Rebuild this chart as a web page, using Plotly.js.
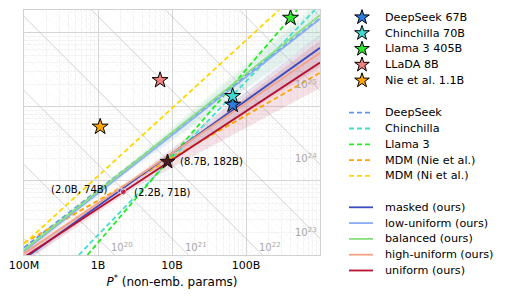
<!DOCTYPE html>
<html><head><meta charset="utf-8">
<script src="https://cdn.plot.ly/plotly-3.0.1.min.js"></script>
<style>html,body{margin:0;padding:0;background:#fff;}#chart{width:508px;height:299px;}</style>
</head><body><div id="chart"></div>
<script>
// ---- reference models (stars) ----
const starNames = ['DeepSeek 67B', 'Chinchilla 70B', 'Llama 3 405B', 'LLaDA 8B', 'Nie et al. 1.1B'];
const starP = [6.6e10, 6.6e10, 4.0e11, 6.9e9, 1.07e9];
const starD = [1.07e12, 1.4e12, 1.6e13, 2.3e12, 5.4e11];
const starColors = ['#2b7de0', '#40d8d0', '#2ee62e', '#f08080', '#ffa500'];

// ---- reference scaling laws (dashed) ----
const refNames = ['DeepSeek', 'Chinchilla', 'Llama 3', 'MDM (Nie et al.)', 'MDM (Ni et al.)'];
const refP_DeepSeek = [1e8, 1e12];      const refD_DeepSeek = [1.26e10, 1.58e13];
const refP_Chinchilla = [5.5e8, 8.5e11]; const refD_Chinchilla = [1e10, 2.04e13];
const refP_Llama = [7.2e8, 4.9e11];     const refD_Llama = [1e10, 2.04e13];
const refP_Nie = [1e8, 1e12];           const refD_Nie = [1.45e10, 2.9e12];
const refP_Ni = [1e8, 2.8e11];          const refD_Ni = [1.41e10, 2.04e13];
const refColors = ['#6495ed', '#40e0d0', '#22ee22', '#ffa500', '#ffd700'];

// ---- our fits (solid) with uncertainty bands ----
const oursNames = ['masked (ours)', 'low-uniform (ours)', 'balanced (ours)', 'high-uniform (ours)', 'uniform (ours)'];
const oursP = [1e8, 3e9, 1e12];
const maskedD = [8.9e9, 1.0e11, 6.3e12];
const maskedLo = [7.9e9, 9.3e10, 3.5e12];
const maskedHi = [1.05e10, 1.07e11, 9.5e12];
const lowUniD = [1.12e10, 1.62e11, 1.55e13];
const lowUniLo = [1.0e10, 1.48e11, 8.9e12];
const lowUniHi = [1.26e10, 1.78e11, 2.5e13];
const balancedD = [1.17e10, 1.74e11, 1.74e13];
const balancedLo = [1.05e10, 1.58e11, 8.9e12];
const balancedHi = [1.32e10, 1.9e11, 2.8e13];
const highUniD = [1.05e10, 1.05e11, 5.37e12];
const highUniLo = [9.3e9, 9.8e10, 3.2e12];
const highUniHi = [1.2e10, 1.12e11, 8.9e12];
const uniformD = [9.33e9, 8.7e10, 3.98e12];
const uniformLo = [7.9e9, 7.9e10, 1.8e12];
const uniformHi = [1.12e10, 9.5e10, 7.9e12];
const oursColors = ['#3b4cc0', '#8cadf5', '#86e07c', '#f5a386', '#b8102f'];

// ---- highlighted optima ----
const optP = [2.0e9, 2.2e9];
const optD = [7.4e10, 7.1e10];
const optLabels = ['(2.0B, 74B)', '(2.2B, 71B)'];
const starOptP = [8.7e9];
const starOptD = [1.82e11];
const starOptLabel = ['(8.7B, 182B)'];

// ---- iso-FLOP contours (C = 6 P D) ----
const isoExp = [19, 20, 21, 22, 23, 24, 25, 26];
const isoBottomLabels = [20, 21, 22];
const isoRightLabels = [23, 24, 25];

// ---- ticks ----
const xTickVals = [1e8, 1e9, 1e10, 1e11];
const xTickText = ['100M', '1B', '10B', '100B'];
const yTickVals = [1e10, 1e11, 1e12, 1e13];

const FONT = 'DejaVu Sans, sans-serif';
const traces = [];

// minor iso lines
const mx = [], my = [];
isoExp.forEach(k => {
  for (let m = 2; m <= 9; m++) {
    const C = m * Math.pow(10, k);
    mx.push(1e7, 1e13, null);
    my.push(C / (6e7), C / (6e13), null);
  }
});
traces.push({x: mx, y: my, mode: 'lines', line: {color: 'rgba(200,200,200,0.28)', width: 0.7, dash: '3px,2px'}, hoverinfo: 'skip', showlegend: false});
// major iso lines
const ix = [], iy = [];
isoExp.forEach(k => {
  const C = Math.pow(10, k);
  ix.push(1e7, 1e13, null);
  iy.push(C / (6e7), C / (6e13), null);
});
traces.push({x: ix, y: iy, mode: 'lines', line: {color: 'rgba(170,170,170,0.6)', width: 0.9}, hoverinfo: 'skip', showlegend: false});

function hexA(h, a) {
  const r = parseInt(h.slice(1, 3), 16), g = parseInt(h.slice(3, 5), 16), b = parseInt(h.slice(5, 7), 16);
  return `rgba(${r},${g},${b},${a})`;
}

const oursD = [maskedD, lowUniD, balancedD, highUniD, uniformD];
const oursLo = [maskedLo, lowUniLo, balancedLo, highUniLo, uniformLo];
const oursHi = [maskedHi, lowUniHi, balancedHi, highUniHi, uniformHi];

// bands
oursNames.forEach((n, i) => {
  const bx = oursP.concat(oursP.slice().reverse());
  const by = oursHi[i].concat(oursLo[i].slice().reverse());
  traces.push({x: bx, y: by, mode: 'lines', fill: 'toself', fillcolor: hexA(oursColors[i], 0.12), line: {width: 0}, hoverinfo: 'skip', showlegend: false});
});

// reference dashed lines
const refP = [refP_DeepSeek, refP_Chinchilla, refP_Llama, refP_Nie, refP_Ni];
const refD = [refD_DeepSeek, refD_Chinchilla, refD_Llama, refD_Nie, refD_Ni];
refNames.forEach((n, i) => {
  traces.push({x: refP[i], y: refD[i], mode: 'lines', name: n, line: {color: refColors[i], width: 1.8, dash: '5px,3px'}, showlegend: false});
});

// our solid lines
oursNames.forEach((n, i) => {
  traces.push({x: oursP, y: oursD[i], mode: 'lines', name: n, line: {color: oursColors[i], width: 1.8}, showlegend: false});
});

// optimum markers
traces.push({x: optP, y: optD, mode: 'markers', marker: {color: ['#3b4cc0', '#c0143a'], size: [5, 6], symbol: 'circle'}, showlegend: false, hoverinfo: 'skip'});
traces.push({x: starOptP, y: starOptD, mode: 'markers', marker: {color: '#4a1a20', size: 11, symbol: 'star', line: {color: '#111', width: 1}}, showlegend: false, hoverinfo: 'skip'});

// reference model stars
starNames.forEach((n, i) => {
  traces.push({x: [starP[i]], y: [starD[i]], mode: 'markers', name: n, marker: {color: starColors[i], size: 12, symbol: 'star', line: {color: '#000', width: 1}}, showlegend: false});
});

// ---- manual legend on an overlay pixel axis ----
const annotations = [];
const legSymX = 362, legLineX0 = 349, legLineX1 = 373, legTextX = 383;
const rowH = 15.8;
const grp1Y = 17.3, grp2Y = 112.7, grp3Y = 207.3;
const legFont = {family: FONT, size: 11.2, color: '#000'};
starNames.forEach((n, i) => {
  const y = grp1Y + i * rowH;
  traces.push({x: [legSymX], y: [y], xaxis: 'x2', yaxis: 'y2', mode: 'markers', marker: {color: starColors[i], size: 11, symbol: 'star', line: {color: '#000', width: 1}}, showlegend: false, hoverinfo: 'skip'});
  annotations.push({x: legTextX, y: y, xref: 'x2', yref: 'y2', text: n, showarrow: false, xanchor: 'left', yanchor: 'middle', font: legFont});
});
refNames.forEach((n, i) => {
  const y = grp2Y + i * rowH;
  traces.push({x: [legLineX0, legLineX1], y: [y, y], xaxis: 'x2', yaxis: 'y2', mode: 'lines', line: {color: refColors[i], width: 1.8, dash: '5px,3px'}, showlegend: false, hoverinfo: 'skip'});
  annotations.push({x: legTextX, y: y, xref: 'x2', yref: 'y2', text: n, showarrow: false, xanchor: 'left', yanchor: 'middle', font: legFont});
});
oursNames.forEach((n, i) => {
  const y = grp3Y + i * rowH;
  traces.push({x: [legLineX0, legLineX1], y: [y, y], xaxis: 'x2', yaxis: 'y2', mode: 'lines', line: {color: oursColors[i], width: 1.8}, showlegend: false, hoverinfo: 'skip'});
  annotations.push({x: legTextX, y: y, xref: 'x2', yref: 'y2', text: n, showarrow: false, xanchor: 'left', yanchor: 'middle', font: legFont});
});

// ---- text annotations in the plot ----
annotations.push({x: Math.log10(optP[0]), y: Math.log10(optD[0]), xref: 'x', yref: 'y', text: optLabels[0], showarrow: false, xanchor: 'right', yanchor: 'middle', xshift: -10, yshift: 1, font: {family: FONT, size: 10, color: '#000'}});
annotations.push({x: Math.log10(optP[1]), y: Math.log10(optD[1]), xref: 'x', yref: 'y', text: optLabels[1], showarrow: false, xanchor: 'left', yanchor: 'middle', xshift: 9, yshift: -1, font: {family: FONT, size: 10, color: '#000'}});
annotations.push({x: Math.log10(starOptP[0]), y: Math.log10(starOptD[0]), xref: 'x', yref: 'y', text: starOptLabel[0], showarrow: false, xanchor: 'left', yanchor: 'middle', xshift: 10, yshift: 0, font: {family: FONT, size: 10, color: '#000'}});

const yBottom = 10, xRight = 12;
isoBottomLabels.forEach(k => {
  const xl = k - Math.log10(6) - yBottom;
  annotations.push({x: xl + 0.1, y: yBottom, xref: 'x', yref: 'y', text: '10<sup>' + k + '</sup>', showarrow: false, xanchor: 'center', yanchor: 'bottom', yshift: 0, font: {family: FONT, size: 10, color: '#a8a8a8'}});
});
isoRightLabels.forEach(k => {
  const yl = k - Math.log10(6) - xRight;
  annotations.push({x: xRight, y: yl, xref: 'x', yref: 'y', text: '10<sup>' + k + '</sup>', showarrow: false, xanchor: 'right', yanchor: 'middle', xshift: -1, yshift: 7, font: {family: FONT, size: 10, color: '#a8a8a8'}});
});

// minor tick values
const xMinor = [], yMinor = [];
for (let e = 8; e < 12; e++) for (let m = 2; m <= 9; m++) xMinor.push(m * Math.pow(10, e));
for (let e = 10; e < 14; e++) for (let m = 2; m <= 9; m++) yMinor.push(m * Math.pow(10, e));

const W = 508, H = 299;
const layout = {
  width: W, height: H,
  margin: {l: 0, r: 0, t: 0, b: 0},
  paper_bgcolor: '#fff', plot_bgcolor: 'rgba(0,0,0,0)',
  font: {family: FONT, size: 11, color: '#000'},
  showlegend: false,
  xaxis: {
    type: 'log', domain: [24 / W, 320 / W], range: [8, 12], anchor: 'y',
    tickmode: 'array', tickvals: xTickVals, ticktext: xTickText, ticks: '',
    tickfont: {family: FONT, size: 11, color: '#000'},
    showgrid: true, gridcolor: '#d6d6d6', gridwidth: 1, zeroline: false,
    showline: true, mirror: true, linecolor: '#d0d0d0', linewidth: 1,
    minor: {tickmode: 'array', tickvals: xMinor, showgrid: true, gridcolor: '#f1f1f1', gridwidth: 0.7, ticks: ''},
    title: {text: '<i>P</i><sup>*</sup> (non-emb. params)', font: {family: FONT, size: 12, color: '#000'}, standoff: 6},
    fixedrange: true
  },
  yaxis: {
    type: 'log', domain: [44 / H, 289 / H], range: [10, 13.31], anchor: 'x',
    tickmode: 'array', tickvals: yTickVals, showticklabels: false, ticks: '',
    showgrid: true, gridcolor: '#d6d6d6', gridwidth: 1, zeroline: false,
    showline: true, mirror: true, linecolor: '#d0d0d0', linewidth: 1,
    minor: {tickmode: 'array', tickvals: yMinor, showgrid: true, gridcolor: '#f1f1f1', gridwidth: 0.7, ticks: ''},
    fixedrange: true
  },
  xaxis2: {domain: [330 / W, 1], range: [330, 508], anchor: 'y2', visible: false, fixedrange: true},
  yaxis2: {domain: [0, 1], range: [299, 0], anchor: 'x2', visible: false, fixedrange: true},
  annotations: annotations
};

Plotly.newPlot('chart', traces, layout, {staticPlot: true, displayModeBar: false});
</script>
</body></html>
